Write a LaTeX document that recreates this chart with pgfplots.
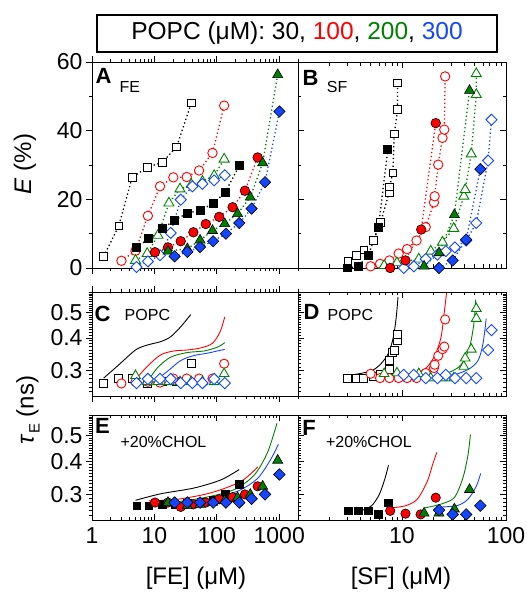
\documentclass[border=0pt]{standalone}
\usepackage{pgfplots}
\pgfplotsset{compat=1.18}
\usepackage{fontspec}
\setmainfont{Liberation Sans}
\definecolor{cR}{RGB}{255,0,0}
\definecolor{cG}{RGB}{0,128,0}
\definecolor{cB}{RGB}{20,70,255}
\tikzset{
 lettr/.style={font=\bfseries\fontsize{22}{22}\selectfont},
 smtxt/.style={font=\fontsize{16}{16}\selectfont},
}
\pgfplotsset{
 pbase/.style={scale only axis, clip=false, axis line style={line width=0.9pt},
   every tick/.style={black, line width=0.8pt}, major tick length=6pt, minor tick length=3.5pt,
   ticklabel style={font=\fontsize{23}{25}\selectfont},
   xticklabels={}},
 plft/.style={pbase, width=206pt, xmin=1, xmax=2000, xtick={1,10,100,1000},
   minor xtick={2,3,4,5,6,7,8,9,20,30,40,50,60,70,80,90,200,300,400,500,600,700,800,900,2000},
   ytick pos=left, tick align=outside},
 prgt/.style={pbase, width=208pt, xmin=1, xmax=100, xtick={1,10,100},
   minor xtick={2,3,4,5,6,7,8,9,20,30,40,50,60,70,80,90},
   yticklabels={}, ytick pos=both, tick align=inside},
 pupper/.style={height=206pt, ymin=0, ymax=60, ytick={0,20,40,60}, minor ytick={10,30,50}},
 ptau/.style={ymin=0.24, ymax=0.6, ytick={0.3,0.4,0.5},
   minor ytick={0.25,0.26,0.27,0.28,0.29,0.31,0.32,0.33,0.34,0.35,0.36,0.37,0.38,0.39,0.41,0.42,0.43,0.44,0.45,0.46,0.47,0.48,0.49,0.51,0.52,0.53,0.54,0.55,0.56,0.57,0.58,0.59,0.6}},
 dotln/.style={dash pattern=on 1.3pt off 2.6pt, line width=1.3pt},
 fitln/.style={no marks, smooth, line width=0.9pt},
 osq/.style={mark=square*, mark size=#1, mark options={solid, draw=black, fill=white, line width=0.9pt}},
 fsq/.style={mark=square*, mark size=#1, mark options={solid, draw=black, fill=black}},
 oci/.style={mark=*, mark size=#1, mark options={solid, draw=cR, fill=white, line width=0.9pt}},
 fci/.style={mark=*, mark size=#1, mark options={solid, draw=black, fill=cR, line width=0.6pt}},
 otr/.style={mark=triangle*, mark size=#1, mark options={solid, draw=cG, fill=white, line width=0.9pt}},
 ftr/.style={mark=triangle*, mark size=#1, mark options={solid, draw=black, fill=cG, line width=0.6pt}},
 odi/.style={mark=square*, mark size=#1, mark options={solid, rotate=45, draw=cB, fill=white, line width=0.9pt}},
 fdi/.style={mark=square*, mark size=#1, mark options={solid, rotate=45, draw=black, fill=cB, line width=0.6pt}},
}
\begin{document}
\begin{tikzpicture}
\useasboundingbox (0,0) rectangle (527pt,592pt);
\node[draw, line width=1.4pt, minimum width=400pt, minimum height=37pt, inner sep=0pt,
  font=\fontsize{24.5}{26}\selectfont] at (297pt,558.5pt)
  {POPC (μM): 30, \textcolor{cR}{100}, \textcolor{cG}{200}, \textcolor{cB}{300}};
\node[rotate=90, font=\fontsize{24}{26}\selectfont] at (25pt,428pt) {\textit{E} (\%)};
\node[rotate=90, font=\fontsize{24}{26}\selectfont] at (28pt,182pt) {\textit{τ}\raisebox{-0.25em}{\fontsize{15}{15}\selectfont E} (ns)};
\node[font=\fontsize{24}{26}\selectfont, anchor=base] at (196pt,7pt) {[FE] (μM)};
\node[font=\fontsize{24}{26}\selectfont, anchor=base] at (401pt,7pt) {[SF] (μM)};

% ---------------- A ----------------
\begin{semilogxaxis}[plft, pupper, at={(92pt,324pt)}, anchor=south west, yticklabels={0,20,40,60}]
\addplot[dotln, black, osq=3.8pt] coordinates {(1.54,3.4)(2.69,12.3)(4.40,26.4)(7.67,29.3)(13.4,30.8)(22.7,35.3)(39.1,48.1)};
\addplot[dotln, cR, oci=4.7pt] coordinates {(2.96,2.1)(4.98,5.0)(7.86,15.2)(12.3,23.8)(20.1,26.4)(32.9,26.5)(52.0,28.4)(85.2,33.5)(131,47.3)};
\addplot[dotln, cG, otr=5.8pt] coordinates {(4.98,2.2)(7.67,4.2)(11.4,9.5)(17.1,18.9)(25.7,23.0)(39.1,24.3)(58.8,25.2)(90.6,26.9)(131,31.7)};
\addplot[dotln, cB, odi=3.9pt] coordinates {(5.17,0.3)(7.86,1.9)(12.3,3.7)(18.2,10.2)(26.4,19.9)(40.6,23.8)(58.8,24.5)(90.6,25.5)(134,27.0)};
\addplot[dotln, black, fsq=3.8pt] coordinates {(5.17,6.1)(8.16,8.5)(13.4,11.5)(21.1,13.9)(33.7,16.0)(55.3,16.8)(88.4,18.9)(136,22.0)(229,29.8)};
\addplot[dotln, cR, fci=4.8pt] coordinates {(10.2,4.6)(16.5,6.0)(26.4,7.8)(42.1,10.4)(66.5,12.8)(109,14.9)(179,17.7)(282,22.5)(451,32.2)};
\addplot[dotln, cG, ftr=5.8pt] coordinates {(16.5,4.9)(33.7,5.6)(53.9,8.1)(85.2,10.9)(134,12.9)(215,15.8)(344,20.6)(543,30.6)(946,56.3)};
\addplot[dotln, cB, fdi=4pt] coordinates {(21.1,3.4)(33.7,4.7)(53.9,6.1)(87.3,7.8)(140,10.0)(229,13.1)(361,17.3)(592,25.0)(1007,45.6)};
\node[lettr] at (rel axis cs:0.056,0.934) {A};
\node[smtxt] at (rel axis cs:0.184,0.879) {FE};
\end{semilogxaxis}

% ---------------- B ----------------
\begin{semilogxaxis}[prgt, pupper, at={(298pt,324pt)}, anchor=south west]
\addplot[dotln, black, osq=3.8pt] coordinates {(3.02,2.1)(3.65,3.6)(4.30,5.3)(5.30,8.1)(6.24,13.3)(7.53,22.0)(7.59,23.6)(8.17,27.7)(8.42,39.0)(9.07,46.1)(9.07,53.9)};
\addplot[dotln, cR, oci=4.7pt] coordinates {(4.99,0.5)(6.15,1.2)(7.58,2.2)(9.29,4.2)(11.2,5.5)(13.8,8.0)(16.9,11.9)(20.3,19.1)(20.6,20.9)(22.3,30.1)(24.5,37.9)(25.5,40.3)(26.0,55.8)};
\addplot[dotln, cG, otr=5.8pt] coordinates {(6.73,0.7)(8.94,1.5)(14.5,2.6)(18.9,4.9)(24.5,7.5)(31.4,11.5)(39.3,20.9)(40.5,22.8)(46.3,33.2)(51.8,50.5)(51.8,56.6)};
\addplot[dotln, cB, odi=3.9pt] coordinates {(10.4,0)(13.0,0.5)(16.9,2.6)(21.9,3.9)(26.4,4.9)(32.3,6.0)(41.4,8.0)(51.8,13.1)(67.3,31.3)(72.5,43.2)};
\addplot[dotln, black, fsq=3.8pt] coordinates {(3.02,0)(3.78,0.5)(4.73,3.6)(5.93,11.8)(7.31,34.5)};
\addplot[dotln, cR, fci=4.8pt] coordinates {(7.70,0)(10.8,2.2)(15.3,11.2)(21.1,42.2)};
\addplot[dotln, cG, ftr=5.8pt] coordinates {(16.3,0.5)(22.7,4.4)(31.9,15.5)(44.6,51.7)};
\addplot[dotln, cB, fdi=4pt] coordinates {(22.7,0)(30.7,2.2)(41.4,8.3)(56.7,28.8)};
\node[lettr] at (rel axis cs:0.060,0.925) {B};
\node[smtxt] at (rel axis cs:0.188,0.879) {SF};
\end{semilogxaxis}

% ---------------- C ----------------
\begin{loglogaxis}[plft, ptau, height=104pt, at={(92pt,196pt)}, anchor=south west, yticklabels={0.3,0.4,0.5}]
\addplot[fitln, black] coordinates {(1.54,0.281)(2.69,0.316)(4.98,0.360)(7.67,0.376)(12.6,0.3875)(18.2,0.4045)(26.4,0.4416)(38.2,0.4916)};
\addplot[fitln, cR] coordinates {(4.98,0.2773)(7.67,0.3114)(12.6,0.3449)(20.6,0.357)(33.7,0.360)(55.3,0.3666)(85.2,0.382)(113,0.4228)(134,0.4818)};
\addplot[fitln, cG] coordinates {(7.5,0.269)(11.1,0.307)(18.2,0.338)(33.7,0.352)(62.7,0.357)(102,0.369)(134,0.384)};
\addplot[fitln, cB] coordinates {(9.2,0.269)(16.1,0.298)(26.4,0.328)(43.3,0.343)(70.7,0.350)(134,0.3623)};
\addplot[only marks, osq=4pt] coordinates {(1.54,0.269)(2.69,0.279)(4.40,0.281)(7.67,0.269)(13.4,0.272)(22.7,0.272)(39.1,0.319)};
\addplot[only marks, oci=4.6pt] coordinates {(2.96,0.268)(4.98,0.272)(7.86,0.272)(12.3,0.27)(20.1,0.28)(32.9,0.28)(52.0,0.28)(85.2,0.28)(131,0.319)};
\addplot[only marks, otr=5.6pt] coordinates {(4.98,0.287)(7.67,0.272)(11.4,0.272)(17.1,0.272)(25.7,0.272)(39.1,0.272)(58.8,0.272)(90.6,0.272)(131,0.292)};
\addplot[only marks, odi=4pt] coordinates {(5.17,0.269)(7.86,0.279)(12.3,0.279)(18.2,0.279)(26.4,0.269)(40.6,0.269)(58.8,0.269)(90.6,0.279)(134,0.269)};
\node[lettr] at (rel axis cs:0.051,0.793) {C};
\node[smtxt] at (rel axis cs:0.269,0.779) {POPC};
\end{loglogaxis}

% ---------------- D ----------------
\begin{loglogaxis}[prgt, ptau, height=104pt, at={(298pt,196pt)}, anchor=south west]
\addplot[fitln, black] coordinates {(3.02,0.287)(4.91,0.2983)(6.14,0.316)(7.42,0.350)(8.27,0.4045)(8.81,0.4818)(9.15,0.574)};
\addplot[fitln, cR] coordinates {(4.91,0.2855)(11.2,0.289)(16.3,0.3027)(20.3,0.338)(23.6,0.399)(25.4,0.496)(26.8,0.594)};
\addplot[fitln, cG] coordinates {(8.94,0.277)(16.3,0.279)(27.4,0.294)(37.0,0.316)(44.6,0.369)(49.1,0.4546)(51.1,0.5605)};
\addplot[fitln, cB] coordinates {(14.0,0.281)(27.4,0.285)(42.9,0.3027)(53.8,0.328)(60.0,0.3797)(64.6,0.475)};
\addplot[only marks, osq=4pt] coordinates {(3.02,0.281)(3.65,0.281)(4.30,0.281)(5.30,0.284)(6.24,0.290)(7.53,0.303)(7.59,0.328)(8.17,0.352)(8.42,0.36)(9.07,0.391)(9.07,0.411)};
\addplot[only marks, oci=4.6pt] coordinates {(4.99,0.292)(6.15,0.281)(7.58,0.281)(9.29,0.281)(11.2,0.281)(13.8,0.281)(16.9,0.294)(20.3,0.307)(20.6,0.316)(22.3,0.342)(24.5,0.3623)(25.5,0.371)(26.0,0.471)};
\addplot[only marks, otr=5.6pt] coordinates {(6.73,0.292)(8.94,0.294)(14.5,0.292)(18.9,0.281)(24.5,0.281)(31.4,0.281)(39.3,0.3114)(40.5,0.335)(46.3,0.3623)(51.8,0.475)(51.8,0.518)};
\addplot[only marks, odi=4pt] coordinates {(10.4,0.289)(13.0,0.289)(16.9,0.281)(21.9,0.281)(26.4,0.289)(32.3,0.281)(41.4,0.281)(51.8,0.281)(67.3,0.360)(72.5,0.429)};
\node[lettr] at (rel axis cs:0.065,0.813) {D};
\node[smtxt] at (rel axis cs:0.252,0.779) {POPC};
\end{loglogaxis}

% ---------------- E ----------------
\begin{loglogaxis}[plft, ptau, xtick align=inside, height=105pt, at={(92pt,72pt)}, anchor=south west, yticklabels={0.3,0.4,0.5}, xticklabels={1,10,100,1000},
  every x tick label/.append style={yshift=-4pt}]
\addplot[fitln, black] coordinates {(4.98,0.285)(12.6,0.3017)(43.2,0.3173)(116,0.3405)(228,0.3727)};
\addplot[fitln, cR] coordinates {(8.16,0.2836)(23.3,0.2876)(80.3,0.3042)(243,0.336)(452,0.3815)};
\addplot[fitln, cG] coordinates {(18.2,0.2795)(62.7,0.2916)(190,0.313)(398,0.3554)(650,0.433)(920,0.558)};
\addplot[fitln, cB] coordinates {(20.6,0.275)(70.7,0.2876)(215,0.3086)(452,0.3454)(738,0.4093)(970,0.4648)};
\addplot[only marks, fsq=3.8pt] coordinates {(5.17,0.272)(8.16,0.272)(13.4,0.275)(21.1,0.275)(33.7,0.278)(55.3,0.28)(88.4,0.285)(136,0.30)(229,0.328)};
\addplot[only marks, fci=4.7pt] coordinates {(10.2,0.2795)(16.5,0.2795)(26.4,0.269)(42.1,0.275)(66.5,0.2795)(109,0.2876)(179,0.293)(282,0.30)(451,0.322)};
\addplot[only marks, ftr=5.8pt] coordinates {(16.5,0.2795)(33.7,0.272)(53.9,0.275)(85.2,0.2795)(134,0.285)(215,0.292)(344,0.30)(543,0.322)(946,0.404)};
\addplot[only marks, fdi=4.1pt] coordinates {(21.1,0.2795)(33.7,0.2795)(53.9,0.2795)(87.3,0.2795)(140,0.2795)(229,0.2795)(361,0.289)(592,0.30)(1007,0.357)};
\node[lettr] at (rel axis cs:0.051,0.90) {E};
\node[smtxt] at (rel axis cs:0.347,0.743) {+20\%CHOL};
\end{loglogaxis}

% ---------------- F ----------------
\begin{loglogaxis}[prgt, ptau, height=105pt, at={(298pt,72pt)}, anchor=south west, xticklabels={,10,100},
  every x tick label/.append style={yshift=-4pt}]
\addplot[fitln, black] coordinates {(4.08,0.2604)(5.1,0.2718)(6.05,0.300)(6.87,0.3454)(7.41,0.387)};
\addplot[fitln, cR] coordinates {(7.70,0.2664)(10.8,0.2718)(14.0,0.2876)(17.5,0.336)(19.6,0.387)(21.6,0.433)};
\addplot[fitln, cG] coordinates {(16.3,0.2664)(23.6,0.2756)(31.8,0.2916)(38.4,0.3454)(43.0,0.421)(45.5,0.506)};
\addplot[fitln, cB] coordinates {(23.6,0.2687)(34.3,0.2725)(43.0,0.2876)(51.8,0.322)(57.1,0.3604)};
\addplot[only marks, fsq=3.8pt] coordinates {(3.02,0.2604)(3.78,0.2604)(4.73,0.2604)(5.93,0.252)(7.41,0.2795)};
\addplot[only marks, fci=4.7pt] coordinates {(7.70,0.260)(10.8,0.2537)(15.1,0.252)(21.1,0.2916)};
\addplot[only marks, ftr=5.8pt] coordinates {(16.3,0.2547)(22.7,0.2547)(31.9,0.264)(44.6,0.313)};
\addplot[only marks, fdi=4.1pt] coordinates {(22.7,0.2616)(30.7,0.252)(41.4,0.252)(56.7,0.272)};
\node[lettr] at (rel axis cs:0.053,0.881) {F};
\node[smtxt] at (rel axis cs:0.341,0.743) {+20\%CHOL};
\end{loglogaxis}
\end{tikzpicture}
\end{document}
